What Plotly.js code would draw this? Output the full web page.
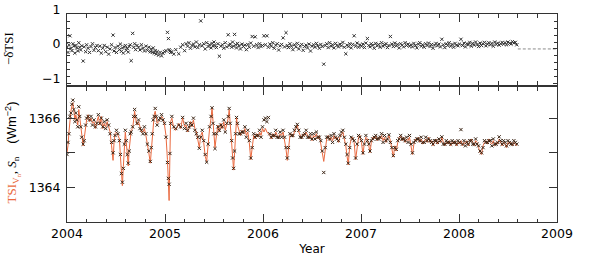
<!DOCTYPE html>
<html>
<head>
<meta charset="utf-8">
<script src="https://cdn.plot.ly/plotly-3.0.1.min.js"></script>
<style>
html,body{margin:0;padding:0;background:#fff;}
#chart{width:589px;height:260px;}
</style>
</head>
<body>
<div id="chart"></div>
<script>
// Decimal year of each sample
const years = [
  2004.000,2004.010,2004.020,2004.030,2004.040,2004.050,2004.060,2004.070,2004.080,2004.090,2004.100,2004.110,2004.120,2004.130,2004.140,2004.150,2004.165,2004.175,2004.190,2004.200,2004.215,2004.230,2004.245,2004.260,2004.275,2004.290,2004.305,
  2004.320,2004.335,2004.350,2004.365,2004.380,2004.395,2004.410,2004.425,2004.440,2004.455,2004.470,2004.480,2004.490,2004.505,2004.520,2004.535,2004.545,2004.555,2004.565,2004.575,2004.585,2004.595,2004.605,2004.615,2004.625,2004.635,2004.645,2004.655,2004.670,2004.680,2004.690,2004.700,
  2004.715,2004.730,2004.745,2004.760,2004.775,2004.790,2004.805,2004.820,2004.835,2004.850,2004.860,2004.870,2004.880,2004.890,2004.900,2004.910,2004.920,2004.935,2004.950,2004.965,2004.980,2004.995,2005.010,2005.025,2005.035,2005.042,2005.050,2005.057,2005.070,2005.090,
  2005.110,2005.140,2005.160,2005.180,2005.200,2005.215,2005.230,2005.245,2005.260,2005.275,2005.290,2005.305,2005.320,2005.335,2005.350,2005.365,2005.380,2005.395,2005.410,2005.425,2005.440,2005.455,2005.470,2005.480,2005.490,2005.500,
  2005.510,2005.525,2005.540,2005.555,2005.570,2005.585,2005.600,2005.615,2005.630,2005.645,2005.655,2005.665,2005.680,2005.690,2005.700,2005.710,2005.720,2005.730,2005.740,2005.755,2005.770,2005.785,2005.800,2005.815,2005.830,2005.845,2005.860,2005.875,2005.890,2005.905,2005.920,2005.935,2005.950,2005.965,2005.980,2005.995,
  2006.010,2006.025,2006.040,2006.055,2006.070,2006.085,2006.100,2006.115,2006.130,2006.145,2006.160,2006.175,2006.190,2006.205,2006.220,2006.235,2006.248,2006.260,2006.275,2006.290,2006.305,2006.320,2006.335,2006.350,2006.365,2006.380,2006.395,2006.410,2006.425,2006.440,2006.455,2006.470,2006.485,2006.500,
  2006.515,2006.530,2006.545,2006.560,2006.575,2006.590,2006.605,2006.620,2006.635,2006.650,2006.665,2006.680,2006.695,2006.710,2006.725,2006.740,2006.755,2006.770,2006.785,2006.800,2006.815,2006.830,2006.845,2006.858,2006.870,2006.885,2006.900,2006.915,2006.930,2006.945,2006.960,2006.975,2006.990,
  2007.005,2007.020,2007.035,2007.050,2007.065,2007.080,2007.092,2007.105,2007.120,2007.135,2007.150,2007.165,2007.180,2007.195,2007.210,2007.225,2007.240,2007.255,2007.270,2007.285,2007.300,2007.315,2007.330,2007.345,2007.360,2007.375,2007.390,2007.405,2007.420,2007.435,2007.450,2007.465,2007.480,2007.495,
  2007.510,2007.525,2007.540,2007.555,2007.570,2007.585,2007.600,2007.615,2007.630,2007.645,2007.660,2007.675,2007.690,2007.705,2007.720,2007.735,2007.750,2007.765,2007.780,2007.795,2007.810,2007.825,2007.840,2007.855,2007.870,2007.885,2007.900,2007.915,2007.930,2007.945,2007.960,2007.975,2007.990,
  2008.005,2008.020,2008.035,2008.050,2008.065,2008.080,2008.095,2008.110,2008.125,2008.140,2008.155,2008.170,2008.185,2008.200,2008.215,2008.230,2008.245,2008.260,2008.275,2008.290,2008.305,2008.320,2008.335,2008.350,2008.365,2008.380,2008.395,2008.410,2008.425,2008.440,2008.455,2008.470,2008.485,2008.500,2008.515,2008.530,2008.545,2008.560,2008.575,2008.590
];

// TSI reconstruction from V_n (orange line), W m^-2
const tsiV = [
  1365.00,1365.20,1365.60,1366.00,1366.20,1366.35,1366.45,1366.20,1365.95,1366.10,1365.90,1365.80,1366.25,1366.00,1365.70,1365.50,1365.20,1365.40,1365.75,1365.95,1366.10,1365.90,1366.00,1365.85,1365.90,1365.70,1365.90,
  1366.05,1365.80,1366.05,1365.70,1365.85,1365.75,1365.90,1365.75,1365.60,1365.20,1364.78,1365.30,1365.55,1365.60,1365.50,1365.40,1364.90,1364.30,1364.05,1364.60,1365.30,1365.60,1365.30,1364.90,1364.62,1365.10,1365.50,1365.65,1365.70,1366.00,1366.20,1366.00,
  1365.80,1365.90,1365.75,1365.60,1365.60,1365.70,1365.50,1365.30,1365.00,1364.70,1365.10,1365.60,1365.90,1366.10,1366.20,1366.00,1365.85,1365.90,1365.95,1366.05,1366.00,1365.80,1365.50,1364.80,1364.20,1363.62,1364.90,1365.90,1366.00,1365.70,
  1365.65,1365.85,1365.70,1366.00,1365.75,1365.80,1365.60,1365.70,1365.90,1365.75,1365.95,1365.70,1365.60,1365.40,1365.15,1365.50,1365.60,1365.30,1364.90,1364.75,1365.30,1365.70,1366.00,1366.30,1365.90,1365.50,
  1365.15,1365.50,1365.80,1365.60,1365.85,1365.70,1365.90,1365.65,1365.80,1366.00,1366.25,1365.80,1365.30,1364.80,1364.50,1365.00,1365.60,1366.00,1365.80,1365.60,1365.50,1365.65,1365.55,1365.70,1365.50,1365.60,1365.30,1364.80,1365.20,1365.50,1365.40,1365.55,1365.45,1365.60,1365.50,1365.70,
  1365.60,1365.70,1365.60,1365.55,1365.50,1365.40,1365.55,1365.45,1365.60,1365.50,1365.40,1365.55,1365.50,1365.60,1365.40,1365.10,1364.78,1365.20,1365.50,1365.55,1365.45,1365.60,1365.70,1365.80,1365.60,1365.50,1365.40,1365.55,1365.50,1365.60,1365.50,1365.40,1365.50,1365.35,
  1365.50,1365.45,1365.55,1365.40,1365.50,1365.30,1365.00,1364.75,1365.10,1365.40,1365.50,1365.35,1365.45,1365.35,1365.50,1365.40,1365.45,1365.30,1365.45,1365.55,1365.60,1365.40,1365.20,1364.90,1364.65,1365.20,1365.40,1365.45,1365.30,1364.80,1365.20,1365.45,1365.50,
  1365.30,1364.95,1365.30,1365.45,1365.40,1365.20,1365.00,1365.30,1365.45,1365.40,1365.50,1365.35,1365.45,1365.40,1365.50,1365.35,1365.45,1365.30,1365.40,1365.50,1365.35,1365.10,1364.88,1365.20,1365.05,1365.30,1365.45,1365.50,1365.35,1365.45,1365.30,1365.40,1365.35,1365.45,
  1365.20,1364.95,1365.25,1365.40,1365.35,1365.45,1365.30,1365.40,1365.25,1365.35,1365.40,1365.30,1365.45,1365.30,1365.35,1365.20,1365.30,1365.40,1365.25,1365.35,1365.30,1365.45,1365.30,1365.20,1365.30,1365.25,1365.35,1365.20,1365.30,1365.25,1365.35,1365.20,1365.30,
  1365.25,1365.35,1365.20,1365.30,1365.25,1365.35,1365.20,1365.30,1365.40,1365.30,1365.20,1365.35,1365.30,1365.15,1365.00,1364.95,1365.20,1365.30,1365.35,1365.25,1365.40,1365.30,1365.25,1365.35,1365.20,1365.30,1365.25,1365.40,1365.30,1365.20,1365.30,1365.25,1365.15,1365.30,1365.25,1365.30,1365.20,1365.30,1365.25,1365.20
];

// Observed TSI S_n (black crosses), W m^-2
const tsiS = [
  1364.95,1365.30,1365.55,1366.05,1366.15,1366.40,1366.52,1366.25,1365.90,1366.15,1365.95,1365.75,1366.33,1366.05,1365.75,1365.45,1365.25,1365.35,1365.80,1366.00,1366.05,1365.95,1366.05,1365.80,1365.95,1365.75,1365.85,
  1366.10,1365.85,1366.00,1365.75,1365.90,1365.70,1365.95,1365.80,1365.55,1365.30,1365.00,1365.35,1365.50,1365.65,1365.55,1365.35,1364.95,1364.40,1364.15,1364.55,1365.25,1365.65,1365.35,1364.95,1364.70,1365.05,1365.55,1365.60,1365.75,1366.05,1366.25,1366.05,
  1365.85,1365.95,1365.70,1365.65,1365.55,1365.75,1365.55,1365.25,1365.05,1364.75,1365.15,1365.55,1365.95,1366.05,1366.28,1366.05,1365.80,1365.95,1366.00,1366.10,1365.95,1365.85,1365.45,1364.72,1364.26,1364.09,1364.98,1365.85,1366.05,1365.75,
  1365.70,1365.80,1365.75,1366.02,1365.70,1365.85,1365.65,1365.75,1365.85,1365.80,1366.00,1365.65,1365.55,1365.45,1365.13,1365.45,1365.65,1365.35,1364.95,1364.73,1365.25,1365.75,1366.05,1366.30,1365.85,1365.55,
  1365.12,1365.55,1365.75,1365.65,1365.80,1365.75,1365.95,1365.60,1365.85,1366.05,1366.28,1365.85,1365.35,1364.85,1364.55,1365.05,1365.55,1366.02,1365.85,1365.55,1365.55,1365.60,1365.60,1365.75,1365.45,1365.65,1365.35,1364.85,1365.15,1365.55,1365.45,1365.50,1365.50,1365.65,1365.45,1365.75,
  1365.95,1366.00,1365.90,1366.02,1365.55,1365.45,1365.50,1365.50,1365.65,1365.45,1365.45,1365.60,1365.45,1365.65,1365.45,1365.15,1364.85,1365.15,1365.55,1365.50,1365.50,1365.65,1365.75,1365.82,1365.65,1365.45,1365.45,1365.50,1365.55,1365.65,1365.45,1365.45,1365.55,1365.40,
  1365.55,1365.40,1365.60,1365.45,1365.45,1365.35,1365.05,1364.43,1365.15,1365.45,1365.45,1365.40,1365.50,1365.30,1365.55,1365.45,1365.40,1365.35,1365.50,1365.60,1365.65,1365.45,1365.25,1364.95,1364.70,1365.15,1365.45,1365.40,1365.35,1364.85,1365.25,1365.50,1365.45,
  1365.35,1365.00,1365.25,1365.50,1365.35,1365.25,1365.05,1365.35,1365.40,1365.45,1365.50,1365.40,1365.40,1365.45,1365.55,1365.30,1365.50,1365.35,1365.40,1365.52,1365.30,1365.15,1364.92,1365.15,1365.10,1365.35,1365.40,1365.50,1365.40,1365.40,1365.35,1365.45,1365.30,1365.50,
  1365.25,1365.00,1365.30,1365.35,1365.40,1365.40,1365.35,1365.45,1365.30,1365.30,1365.45,1365.35,1365.40,1365.35,1365.30,1365.25,1365.35,1365.35,1365.30,1365.40,1365.35,1365.46,1365.25,1365.25,1365.35,1365.30,1365.30,1365.25,1365.35,1365.30,1365.30,1365.25,1365.35,
  1365.30,1365.67,1365.25,1365.35,1365.20,1365.30,1365.25,1365.35,1365.35,1365.25,1365.25,1365.40,1365.25,1365.20,1365.05,1365.00,1365.15,1365.35,1365.30,1365.30,1365.35,1365.35,1365.20,1365.40,1365.25,1365.25,1365.30,1365.46,1365.35,1365.25,1365.35,1365.30,1365.20,1365.35,1365.30,1365.25,1365.25,1365.35,1365.30,1365.25
];

// -deltaTSI (top panel)
const negDeltaTSI = [
  0.05,-0.10,0.12,0.38,0.02,-0.05,0.15,0.08,-0.12,0.10,0.03,-0.06,0.18,0.05,-0.03,0.09,-0.35,0.06,-0.08,0.12,0.02,-0.10,0.07,0.15,-0.04,0.04,0.10,
  -0.05,0.08,-0.12,0.02,0.10,-0.08,0.05,-0.15,0.00,0.12,0.40,-0.06,0.04,-0.10,0.08,-0.02,0.14,-0.07,0.03,-0.12,0.06,0.10,-0.04,0.02,-0.09,0.07,0.12,-0.34,0.45,0.05,0.15,-0.02,
  0.10,0.05,-0.03,0.12,0.02,-0.06,0.08,-0.04,0.05,-0.08,0.00,-0.10,0.03,-0.12,-0.05,-0.15,-0.08,-0.18,-0.10,-0.20,-0.12,-0.08,-0.05,0.48,0.30,-0.02,-0.06,-0.10,-0.08,-0.15,
  -0.02,-0.14,0.05,0.12,-0.05,0.15,0.08,0.18,0.02,0.10,0.14,0.06,0.20,0.04,0.12,0.81,0.09,0.15,0.00,0.18,0.07,0.12,0.03,0.16,0.08,0.20,
  0.10,0.04,0.15,-0.21,0.08,0.12,0.02,0.18,0.06,0.41,0.10,0.14,0.05,0.20,0.08,0.42,0.12,0.03,0.16,0.09,0.00,0.14,0.07,0.11,-0.02,0.13,0.05,0.17,0.36,0.08,0.35,0.12,0.04,0.15,0.07,0.10,
  0.38,0.12,0.38,0.05,0.14,0.08,0.18,0.02,0.11,0.15,-0.03,0.09,0.13,0.32,0.06,0.47,0.10,0.04,0.15,0.08,-0.02,0.12,0.06,0.16,0.00,0.09,0.13,-0.04,0.07,0.11,0.03,0.14,-0.06,0.08,
  0.12,0.05,0.16,0.09,0.02,0.13,0.07,-0.44,0.10,0.15,0.04,0.18,0.08,0.12,0.03,0.16,0.10,0.06,0.14,0.09,0.19,0.05,-0.14,0.11,0.07,0.15,0.03,0.13,0.38,0.08,0.17,0.05,0.12,
  0.08,0.14,0.04,0.17,0.30,0.10,0.06,0.15,0.11,0.02,0.16,0.09,0.13,0.05,0.18,0.08,0.12,0.15,0.04,0.10,0.36,0.14,0.07,0.17,0.09,0.13,0.03,0.15,0.11,0.06,0.18,0.10,0.14,0.08,
  0.12,0.06,0.16,0.10,0.03,0.14,0.18,0.08,0.12,0.05,0.15,0.10,0.17,0.07,0.13,0.02,0.11,0.16,0.09,0.14,0.06,0.28,0.12,0.04,0.15,0.10,0.18,0.08,0.13,0.05,0.16,0.11,0.09,
  0.14,0.28,0.10,0.17,0.06,0.15,0.12,0.19,0.08,0.16,0.11,0.20,0.13,0.07,0.17,0.10,0.15,0.19,0.09,0.14,0.18,0.12,0.16,0.08,0.20,0.13,0.17,0.11,0.15,0.19,0.14,0.18,0.12,0.20,0.16,0.14,0.21,0.17,0.19,0.12
];

// dashed zero reference after the data end
const zeroRefX = [2008.6, 2009.0];
const zeroRefY = [0, 0];

const xTickVals = [2004, 2005, 2006, 2007, 2008, 2009];
const xTickText = ['2004', '2005', '2006', '2007', '2008', '2009'];
const yTopTickVals = [-1, 0, 1];
const yTopTickText = ['\u22121', '0', '1'];
const yBotTickVals = [1364, 1366];
const yBotTickText = ['1364', '1366'];

const ORANGE = '#ea6a40';
const AXC = '#333333';
const tickFont = {family: 'DejaVu Sans', size: 12.5, color: '#000'};

const traces = [
  {x: zeroRefX, y: zeroRefY, xaxis: 'x2', yaxis: 'y2', mode: 'lines',
   line: {color: '#8c8c8c', width: 1, dash: '3px,2px'}, hoverinfo: 'skip'},
  {x: years, y: negDeltaTSI, xaxis: 'x2', yaxis: 'y2', mode: 'markers',
   marker: {symbol: 'x-thin', size: 3.2, line: {width: 1, color: '#333'}}},
  {x: years, y: tsiV, xaxis: 'x', yaxis: 'y', mode: 'lines',
   line: {color: ORANGE, width: 1}},
  {x: years, y: tsiS, xaxis: 'x', yaxis: 'y', mode: 'markers',
   marker: {symbol: 'x-thin', size: 3.2, line: {width: 1, color: '#3a2414'}}}
];

const commonX = {
  range: [2004, 2009], tickvals: xTickVals, ticktext: xTickText,
  ticks: 'inside', ticklen: 8, tickwidth: 1, tickcolor: AXC,
  minor: {dtick: 0.2, ticks: 'inside', ticklen: 3.5, tickcolor: AXC, tickwidth: 1},
  showline: true, linecolor: AXC, linewidth: 1, mirror: 'allticks',
  showgrid: false, zeroline: false, tickfont: tickFont
};

const layout = {
  width: 589, height: 260,
  margin: {l: 67, r: 32, t: 14, b: 38, pad: 0},
  paper_bgcolor: '#fff', plot_bgcolor: '#fff',
  showlegend: false,
  xaxis: Object.assign({}, commonX, {anchor: 'y',
    title: {text: 'Year', font: {family: 'DejaVu Sans', size: 12, color: '#000'}, standoff: 4}}),
  xaxis2: Object.assign({}, commonX, {anchor: 'y2', matches: 'x', showticklabels: false}),
  yaxis: {
    domain: [0, 0.649], range: [1363.0, 1366.9],
    tickvals: yBotTickVals, ticktext: yBotTickText,
    ticks: 'inside', ticklen: 8, tickcolor: AXC, tickwidth: 1,
    minor: {dtick: 1, tick0: 1363, ticks: 'inside', ticklen: 8, tickcolor: AXC, tickwidth: 1},
    showline: true, linecolor: AXC, linewidth: 1, mirror: 'allticks',
    showgrid: false, zeroline: false, tickfont: tickFont, ticklabelstandoff: 3
  },
  yaxis2: {
    domain: [0.659, 1], range: [-1.04, 1.01],
    tickvals: yTopTickVals, ticktext: yTopTickText,
    ticks: 'inside', ticklen: 4, tickcolor: AXC, tickwidth: 1,
    minor: {dtick: 0.2, ticks: 'inside', ticklen: 3, tickcolor: AXC},
    showline: true, linecolor: AXC, linewidth: 1, mirror: 'allticks',
    showgrid: false, zeroline: false, tickfont: tickFont, ticklabelstandoff: 3,
    ticklabelshift: -5
  },
  annotations: [
    {xref: 'paper', yref: 'paper', x: -0.118, y: 0.832, textangle: -90,
     showarrow: false, xanchor: 'center', yanchor: 'middle',
     text: '\u2212\u03b4TSI', font: {family: 'Liberation Serif', size: 13, color: '#000'}},
    {xref: 'paper', yref: 'paper', x: -0.112, y: 0.335, textangle: -90,
     showarrow: false, xanchor: 'center', yanchor: 'middle',
     text: '<span style="color:' + ORANGE + '">TSI<sub>V<sub>n</sub></sub></span>, <i>S</i><sub>n</sub>\u00a0\u00a0\u00a0\u00a0<span style="font-family:Liberation Sans">(Wm<sup>\u22122</sup>)</span>',
     font: {family: 'Liberation Serif', size: 13, color: '#000'}}
  ]
};

Plotly.newPlot('chart', traces, layout, {displayModeBar: false, staticPlot: true});
</script>
</body>
</html>
